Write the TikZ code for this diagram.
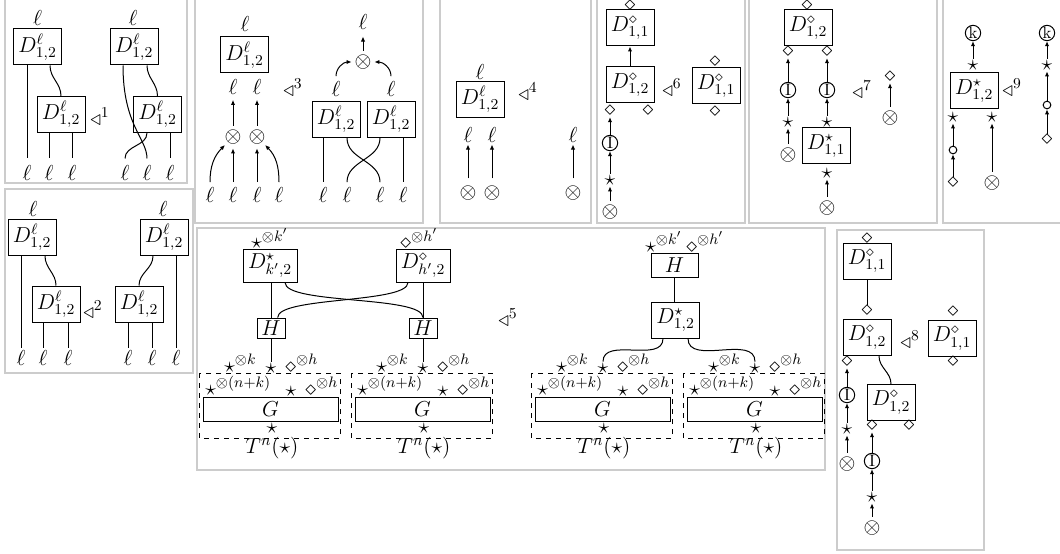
\RequirePackage{fix-cm}
\documentclass[tikz,border=0pt]{standalone}
\usetikzlibrary{arrows.meta}
\tikzset{
  panel/.style={draw=black!20, line width=0.9pt},
  dbox/.style={draw, line width=0.6pt, inner sep=0pt, minimum width=28.8pt, minimum height=21.6pt},
  hbox/.style={draw, line width=0.6pt, inner sep=0pt, minimum width=16.8pt, minimum height=12pt},
  gbox/.style={draw, line width=0.6pt, inner sep=0pt, minimum width=81pt, minimum height=14.4pt},
  lab/.style={inner sep=1pt},
  sym/.style={inner sep=0.6pt},
  ot/.style={circle, inner sep=0pt},
  wire/.style={line width=0.6pt},
  arr/.style={line width=0.6pt, -{Latex[length=3pt,width=2.6pt]}},
  cI/.style={circle, draw, line width=0.6pt, inner sep=0pt, minimum size=9.2pt, font=\fontsize{10}{12}\selectfont},
  oc/.style={circle, draw, line width=0.6pt, inner sep=0pt, minimum size=4.6pt},
  tri/.style={inner sep=0pt}
}
\begin{document}
\fontsize{13}{15}\selectfont
\begin{tikzpicture}[x=0.6pt,y=-0.6pt]
\useasboundingbox (0,0) rectangle (1060,554);

% ---------- panel 1
\draw[panel] (5,-5) rectangle (187,183);
\node[lab] (aT1) at (37.5,18) {$\ell$};
\node[dbox] (a1) at (37.5,47) {$D^{\ell}_{1,2}$};
\node[dbox] (a2) at (61,114.5) {$D^{\ell}_{1,2}$};
\node[lab] (aB1) at (27,173) {$\ell$};
\node[lab] (aB2) at (49,173) {$\ell$};
\node[lab] (aB3) at (72,173) {$\ell$};
\node[tri] (aR) at (100,117) {$\triangleleft^{1}$};
\node[lab] (aT2) at (133,18) {$\ell$};
\node[dbox] (a3) at (134,47) {$D^{\ell}_{1,2}$};
\node[dbox] (a4) at (157.5,114.5) {$D^{\ell}_{1,2}$};
\node[lab] (aB4) at (125,173) {$\ell$};
\node[lab] (aB5) at (147,173) {$\ell$};
\node[lab] (aB6) at (170,173) {$\ell$};
\draw[wire] (a1.south -| aB1) -- ([yshift=3pt]aB1.north);
\draw[wire] ([xshift=7.5pt]a1.south) to[out=-90,in=90] (a2.north);
\draw[wire] (a2.south -| aB2) -- ([yshift=3pt]aB2.north);
\draw[wire] (a2.south -| aB3) -- ([yshift=3pt]aB3.north);
\draw[wire] ([xshift=-6.6pt]a3.south) to[out=-90,in=90,out distance=36pt,in distance=12pt] ([yshift=3pt]aB5.north);
\draw[wire] ([xshift=-6.3pt]a4.south) to[out=-90,in=90] ([yshift=3pt]aB4.north);
\draw[wire] ([xshift=7.8pt]a3.south) to[out=-90,in=90] (a4.north);
\draw[wire] (a4.south -| aB6) -- ([yshift=3pt]aB6.north);

% ---------- panel 3
\draw[panel] (195,-5) rectangle (423,223);
\node[lab] (bT) at (245,24) {$\ell$};
\node[dbox] (b1) at (244.5,55) {$D^{\ell}_{1,2}$};
\node[lab] (bM1) at (233,87) {$\ell$};
\node[lab] (bM2) at (257,87) {$\ell$};
\node[ot] (bx1) at (233,137) {$\otimes$};
\node[ot] (bx2) at (257,137) {$\otimes$};
\draw[arr,shorten >=2pt] (bx1) -- (bM1);
\draw[arr,shorten >=2pt] (bx2) -- (bM2);
\node[lab] (bB1) at (210,195) {$\ell$};
\node[lab] (bB2) at (233,195) {$\ell$};
\node[lab] (bB3) at (257,195) {$\ell$};
\node[lab] (bB4) at (279,195) {$\ell$};
\draw[arr] ([yshift=2pt]bB1.north) to[out=90,in=-135] (bx1);
\draw[arr] ([yshift=2pt]bB2.north) -- (bx1);
\draw[arr] ([yshift=2pt]bB3.north) -- (bx2);
\draw[arr] ([yshift=2pt]bB4.north) to[out=90,in=-45] (bx2);
\node[tri] (bR3) at (293,88) {$\triangleleft^{3}$};
\node[lab] (bT2) at (363,22) {$\ell$};
\node[ot] (bo) at (363,62) {$\otimes$};
\draw[arr,shorten >=3pt] (bo) -- (bT2);
\node[lab] (bM3) at (336,89) {$\ell$};
\node[lab] (bM4) at (391,89) {$\ell$};
\draw[arr] ([yshift=2pt]bM3.north) to[out=90,in=180] (bo);
\draw[arr] ([yshift=2pt]bM4.north) to[out=90,in=0] (bo);
\node[dbox] (bL) at (336,119.5) {$D^{\ell}_{1,2}$};
\node[dbox] (bR) at (391,119.5) {$D^{\ell}_{1,2}$};
\node[lab] (bB5) at (323,195) {$\ell$};
\node[lab] (bB6) at (347,195) {$\ell$};
\node[lab] (bB7) at (380,195) {$\ell$};
\node[lab] (bB8) at (403,195) {$\ell$};
\draw[wire] (bL.south -| bB5) -- ([yshift=2pt]bB5.north);
\draw[wire] (bL.south -| bB6) to[out=-90,in=90] ([yshift=2pt]bB7.north);
\draw[wire] (bR.south -| bB7) to[out=-90,in=90] ([yshift=2pt]bB6.north);
\draw[wire] (bR.south -| bB8) -- ([yshift=2pt]bB8.north);

% ---------- panel 4
\draw[panel] (440,-5) rectangle (591,223);
\node[lab] (cT) at (480,72) {$\ell$};
\node[dbox] (c1) at (480,99.5) {$D^{\ell}_{1,2}$};
\node[tri] (cR) at (528,92) {$\triangleleft^{4}$};
\node[lab] (cM1) at (468,135) {$\ell$};
\node[lab] (cM2) at (492,135) {$\ell$};
\node[lab] (cM3) at (573,135) {$\ell$};
\node[ot] (cx1) at (468,193) {$\otimes$};
\node[ot] (cx2) at (492,193) {$\otimes$};
\node[ot] (cx3) at (573,193) {$\otimes$};
\draw[arr,shorten <=2pt] (cx1) -- (cM1);
\draw[arr,shorten <=2pt] (cx2) -- (cM2);
\draw[arr,shorten <=2pt] (cx3) -- (cM3);

% ---------- panel 6
\draw[panel] (597,-5) rectangle (745,223);
\node[sym] (dT) at (630,6) {$\diamond$};
\node[dbox] (d1) at (630,28) {$D^{\diamond}_{1,1}$};
\node[dbox] (d2) at (630,85) {$D^{\diamond}_{1,2}$};
\draw[arr] (d2) -- (d1);
\node[tri] (dR) at (672,88) {$\triangleleft^{6}$};
\node[dbox] (d3) at (716,86) {$D^{\diamond}_{1,1}$};
\node[sym] (d3a) at (715,62) {$\diamond$};
\node[sym] (d3b) at (715,112) {$\diamond$};
\node[sym] (dd1) at (610,111) {$\diamond$};
\node[sym] (dd2) at (648,111) {$\diamond$};
\node[cI] (dI) at (610,143) {I};
\node[sym] (ds) at (610,180) {$\star$};
\node[ot] (dx) at (610,212) {$\otimes$};
\draw[arr] (dI) -- (dd1);
\draw[arr] (ds) -- (dI);
\draw[arr] (dx) -- (ds);

% ---------- panel 7
\draw[panel] (749,-5) rectangle (937,223);
\node[sym] (eT) at (807,6) {$\diamond$};
\node[dbox] (e1) at (808,28) {$D^{\diamond}_{1,2}$};
\node[sym] (ed1) at (788,52) {$\diamond$};
\node[sym] (ed2) at (827,52) {$\diamond$};
\node[cI] (eI1) at (788,90) {I};
\node[cI] (eI2) at (827,90) {I};
\node[tri] (eR) at (862,90) {$\triangleleft^{7}$};
\node[sym] (ed3) at (890,77) {$\diamond$};
\node[ot] (ex3) at (890,118) {$\otimes$};
\node[sym] (es1) at (788,122) {$\star$};
\node[sym] (es2) at (827,122) {$\star$};
\node[ot] (ex1) at (788,155) {$\otimes$};
\node[dbox] (e2) at (826,146) {$D^{\star}_{1,1}$};
\node[sym] (es3) at (827,173) {$\star$};
\node[ot] (ex2) at (827,208) {$\otimes$};
\draw[arr] (eI1) -- (ed1);
\draw[arr] (eI2) -- (ed2);
\draw[arr] (es1) -- (eI1);
\draw[arr] (es2) -- (eI2);
\draw[arr] (ex1) -- (es1);
\draw[arr] (ex3) -- (ed3);
\draw[arr] (ex2) -- (es3);

% ---------- panel 9
\draw[panel] (943,-5) rectangle (1070,223);
\node[cI] (fk1) at (973,33) {k};
\node[sym] (fs1) at (973,65) {$\star$};
\node[dbox] (f1) at (974,91) {$D^{\star}_{1,2}$};
\node[tri] (fR) at (1012,88) {$\triangleleft^{9}$};
\node[sym] (fs2) at (953,117) {$\star$};
\node[sym] (fs3) at (992,117) {$\star$};
\node[oc] (fc1) at (953,150) {};
\node[sym] (fd1) at (953,183) {$\diamond$};
\node[ot] (fx) at (992,183) {$\otimes$};
\node[cI] (fk2) at (1047,33) {k};
\node[sym] (fs4) at (1047,65) {$\star$};
\node[oc] (fc2) at (1047,105) {};
\node[sym] (fd2) at (1047,140) {$\diamond$};
\draw[arr] (fs1) -- (fk1);
\draw[arr] (fc1) -- (fs2);
\draw[arr] (fd1) -- (fc1);
\draw[arr] (fx) -- (fs3);
\draw[arr] (fs4) -- (fk2);
\draw[arr] (fc2) -- (fs4);
\draw[arr] (fd2) -- (fc2);

% ---------- panel 2
\draw[panel] (5,189) rectangle (193,373);
\node[lab] (gT1) at (33,209) {$\ell$};
\node[dbox] (g1) at (32,237.5) {$D^{\ell}_{1,2}$};
\node[dbox] (g2) at (56,304) {$D^{\ell}_{1,2}$};
\node[tri] (gR) at (93,310) {$\triangleleft^{2}$};
\node[lab] (gT2) at (163,209) {$\ell$};
\node[dbox] (g3) at (164,237.5) {$D^{\ell}_{1,2}$};
\node[dbox] (g4) at (139,304) {$D^{\ell}_{1,2}$};
\node[lab] (gB1) at (21,358) {$\ell$};
\node[lab] (gB2) at (43,358) {$\ell$};
\node[lab] (gB3) at (68,358) {$\ell$};
\node[lab] (gB4) at (128,358) {$\ell$};
\node[lab] (gB5) at (152,358) {$\ell$};
\node[lab] (gB6) at (176,358) {$\ell$};
\draw[wire] (g1.south -| gB1) -- (gB1.north);
\draw[wire] ([xshift=7.8pt]g1.south) to[out=-90,in=90] (g2.north);
\draw[wire] (g2.south -| gB2) -- (gB2.north);
\draw[wire] (g2.south -| gB3) -- (gB3.north);
\draw[wire] ([xshift=-6.6pt]g3.south) to[out=-90,in=90] (g4.north);
\draw[wire] (g4.south -| gB4) -- (gB4.north);
\draw[wire] (g4.south -| gB5) -- (gB5.north);
\draw[wire] (g3.south -| gB6) -- (gB6.north);

% ---------- panel 5
\draw[panel] (197,228) rectangle (825,470);
\node[dbox, minimum width=32.4pt, minimum height=19.8pt] (h1) at (270,265.5) {$D^{\star}_{k',2}$};
\node[inner sep=0pt, anchor=base west] (h1l) at (251,249) {$\star^{\otimes k'}$};
\node[dbox, minimum width=32.4pt, minimum height=19.8pt] (h2) at (423,265.5) {$D^{\diamond}_{h',2}$};
\node[inner sep=0pt, anchor=base west] (h2l) at (400,249) {$\diamond^{\otimes h'}$};
\node[hbox] (hH1) at (271,328) {$H$};
\node[hbox] (hH2) at (423,328) {$H$};
\draw[wire] (hH1.north |- h1.south) -- (hH1.north);
\draw[wire] (hH2.north |- h2.south) -- (hH2.north);
\draw[wire] ([xshift=9pt]h1.south) to[out=-90,in=90,looseness=0.4] (hH2.north);
\draw[wire] ([xshift=-9pt]h2.south) to[out=-90,in=90,looseness=0.4] ([xshift=4pt]hH1.north);
\node[tri] (hR) at (508,318) {$\triangleleft^{5}$};
\foreach \dx/\n in {0/a,152/b,332/c,484/d}{
  \draw[dashed, line width=0.6pt] (199+\dx,373) rectangle (340+\dx,438);
  \node[gbox] (G\n) at (270.5+\dx,409) {$G$};
  \node[inner sep=0pt, anchor=base west] (tk\n) at (224+\dx,372) {$\star^{\otimes k}$};
  \node[sym] (ts\n) at (271+\dx,368) {$\star$};
  \node[inner sep=0pt, anchor=base west] (th\n) at (285+\dx,372) {$\diamond^{\otimes h}$};
  \node[inner sep=0pt, anchor=base west] (tn\n) at (205+\dx,395) {$\star^{\otimes(n+k)}$};
  \node[sym] (tm\n) at (291+\dx,391) {$\star$};
  \node[inner sep=0pt, anchor=base west] (tq\n) at (305+\dx,395) {$\diamond^{\otimes h}$};
  \node[sym] (tb\n) at (272+\dx,428) {$\star$};
  \node (tt\n) at (272+\dx,448) {$T^{n}(\star)$};
}
\draw[wire] (hH1.south) -- (tsa.north);
\draw[wire] (hH2.south) -- (tsb.north);
\node[inner sep=0pt, anchor=base west] (hHl1) at (645,252) {$\star^{\otimes k'}$};
\node[inner sep=0pt, anchor=base west] (hHl2) at (686,252) {$\diamond^{\otimes h'}$};
\node[dbox, minimum width=28.2pt, minimum height=14.4pt] (hH3) at (674.5,265) {$H$};
\node[dbox] (h3) at (675.5,320) {$D^{\star}_{1,2}$};
\draw[wire] (hH3.south) -- (hH3.south |- h3.north);
\draw[wire] ([xshift=-7.5pt]h3.south) to[out=-90,in=90] (tsc.north);
\draw[wire] ([xshift=7.5pt]h3.south) to[out=-90,in=90] (tsd.north);

% ---------- panel 8
\draw[panel] (837,230) rectangle (984,550);
\node[sym] (iT) at (867,239) {$\diamond$};
\node[dbox] (i1) at (867,261) {$D^{\diamond}_{1,1}$};
\node[sym] (id0) at (867,311) {$\diamond$};
\draw[wire] (i1.south) -- (id0.north);
\node[dbox] (i2) at (867,337.5) {$D^{\diamond}_{1,2}$};
\node[tri] (iR) at (910,340) {$\triangleleft^{8}$};
\node[dbox] (i3) at (952,338.5) {$D^{\diamond}_{1,1}$};
\node[sym] (i3a) at (953,312) {$\diamond$};
\node[sym] (i3b) at (953,362) {$\diamond$};
\node[sym] (id1) at (847,362) {$\diamond$};
\node[dbox] (i4) at (891,402.5) {$D^{\diamond}_{1,2}$};
\draw[wire] ([xshift=7.2pt]i2.south) to[out=-90,in=90] (i4.north);
\node[sym] (id2) at (872,426) {$\diamond$};
\node[sym] (id3) at (909,426) {$\diamond$};
\node[cI] (iI1) at (847,395) {I};
\node[sym] (is1) at (847,429) {$\star$};
\node[ot] (ix1) at (847,464) {$\otimes$};
\node[cI] (iI2) at (872,461) {I};
\node[sym] (is2) at (872,497) {$\star$};
\node[ot] (ix2) at (872,528) {$\otimes$};
\draw[arr] (iI1) -- (id1);
\draw[arr] (is1) -- (iI1);
\draw[arr] (ix1) -- (is1);
\draw[arr] (iI2) -- (id2);
\draw[arr] (is2) -- (iI2);
\draw[arr] (ix2) -- (is2);
\end{tikzpicture}
\end{document}
